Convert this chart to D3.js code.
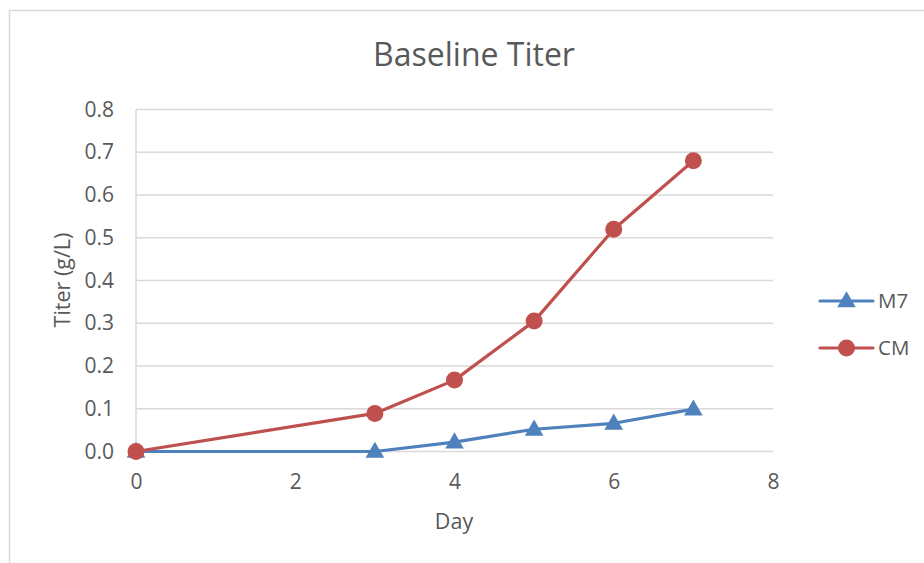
<!DOCTYPE html>
<html>
<head>
<meta charset="utf-8">
<script src="https://cdn.jsdelivr.net/npm/d3@7"></script>
<style>
  html, body { margin: 0; padding: 0; background: #fff; }
  svg { display: block; font-family: "Open Sans", "Noto Sans", sans-serif; }
</style>
</head>
<body>
<svg id="chart" width="924" height="563"></svg>
<script>
// Culture days and measured titer (g/L) for each medium
const days = [0, 3, 4, 5, 6, 7];
const m7Titer = [0, 0, 0.022, 0.052, 0.066, 0.099];
const cmTiter = [0, 0.089, 0.167, 0.305, 0.520, 0.680];
const xTicks = [0, 2, 4, 6, 8];
const yTicks = [0, 0.1, 0.2, 0.3, 0.4, 0.5, 0.6, 0.7, 0.8];
const seriesNames = ["M7", "CM"];

const series = [
  { name: seriesNames[0], values: m7Titer, color: "#4f81bd", marker: "triangle" },
  { name: seriesNames[1], values: cmTiter, color: "#c0504d", marker: "circle" }
];

const svg = d3.select("#chart");
const W = 924, H = 563;
const textColor = "#595959";

// chart frame
svg.append("rect")
  .attr("x", 9.5).attr("y", 10.5)
  .attr("width", W).attr("height", H)
  .attr("fill", "#fff").attr("stroke", "#d9d9d9").attr("stroke-width", 1.5);

const plot = { left: 136, right: 773, top: 109.5, bottom: 451.5 };
const x = d3.scaleLinear().domain([0, 8]).range([plot.left, plot.right]);
const y = d3.scaleLinear().domain([0, 0.8]).range([plot.bottom, plot.top]);

// horizontal gridlines
svg.append("g")
  .selectAll("line")
  .data(yTicks)
  .join("line")
  .attr("x1", plot.left).attr("x2", plot.right)
  .attr("y1", d => y(d)).attr("y2", d => y(d))
  .attr("stroke", "#d9d9d9").attr("stroke-width", 1.5);

// vertical axis line
svg.append("line")
  .attr("x1", x(0)).attr("x2", x(0))
  .attr("y1", plot.top).attr("y2", plot.bottom)
  .attr("stroke", "#d9d9d9").attr("stroke-width", 1.5);

// y axis labels
const yAxis = d3.axisLeft(y).tickValues(yTicks).tickFormat(d3.format(".1f")).tickSize(0).tickPadding(0);
const gy = svg.append("g").attr("transform", `translate(${plot.left - 22},0)`).call(yAxis);
gy.select(".domain").remove();
gy.attr("font-family", null).attr("font-size", null);
gy.selectAll("text").attr("fill", textColor).style("font-size", "21px");

// x axis labels
const xAxis = d3.axisBottom(x).tickValues(xTicks).tickFormat(d3.format("d")).tickSize(0).tickPadding(0);
const gx = svg.append("g").attr("transform", `translate(0,${plot.bottom + 23})`).call(xAxis);
gx.select(".domain").remove();
gx.attr("font-family", null).attr("font-size", null);
gx.selectAll("text").attr("fill", textColor).style("font-size", "21px");

// title
svg.append("text")
  .attr("x", 474).attr("y", 66)
  .attr("text-anchor", "middle")
  .attr("fill", textColor)
  .style("font-size", "32px")
  .text("Baseline Titer");

// axis titles
svg.append("text")
  .attr("transform", "translate(70,280) rotate(-90)")
  .attr("text-anchor", "middle")
  .attr("fill", textColor)
  .style("font-size", "21.5px")
  .text("Titer (g/L)");

svg.append("text")
  .attr("x", 454).attr("y", 529)
  .attr("text-anchor", "middle")
  .attr("fill", textColor)
  .style("font-size", "21.5px")
  .text("Day");

const line = d3.line().x(d => x(d[0])).y(d => y(d[1]));
const tri = d3.symbol().type(d3.symbolTriangle).size(150);

function drawMarker(g, s, cx, cy) {
  if (s.marker === "circle") {
    g.append("circle").attr("cx", cx).attr("cy", cy).attr("r", 8.5).attr("fill", s.color);
  } else {
    g.append("path").attr("d", tri()).attr("transform", `translate(${cx},${cy + 1})`).attr("fill", s.color);
  }
}

series.forEach(s => {
  const pts = days.map((d, i) => [d, s.values[i]]);
  const g = svg.append("g");
  g.append("path")
    .attr("d", line(pts))
    .attr("fill", "none")
    .attr("stroke", s.color)
    .attr("stroke-width", 3.2)
    .attr("stroke-linejoin", "round");
  pts.forEach(p => drawMarker(g, s, x(p[0]), y(p[1])));
});

// legend
const legendY = [301, 348];
series.forEach((s, i) => {
  const g = svg.append("g");
  g.append("line")
    .attr("x1", 820).attr("x2", 873)
    .attr("y1", legendY[i]).attr("y2", legendY[i])
    .attr("stroke", s.color).attr("stroke-width", 3.2).attr("stroke-linecap", "round");
  drawMarker(g, s, 846.5, legendY[i]);
  g.append("text")
    .attr("x", 878).attr("y", legendY[i] + 7)
    .attr("fill", textColor)
    .style("font-size", "20.5px")
    .text(s.name);
});
</script>
</body>
</html>
